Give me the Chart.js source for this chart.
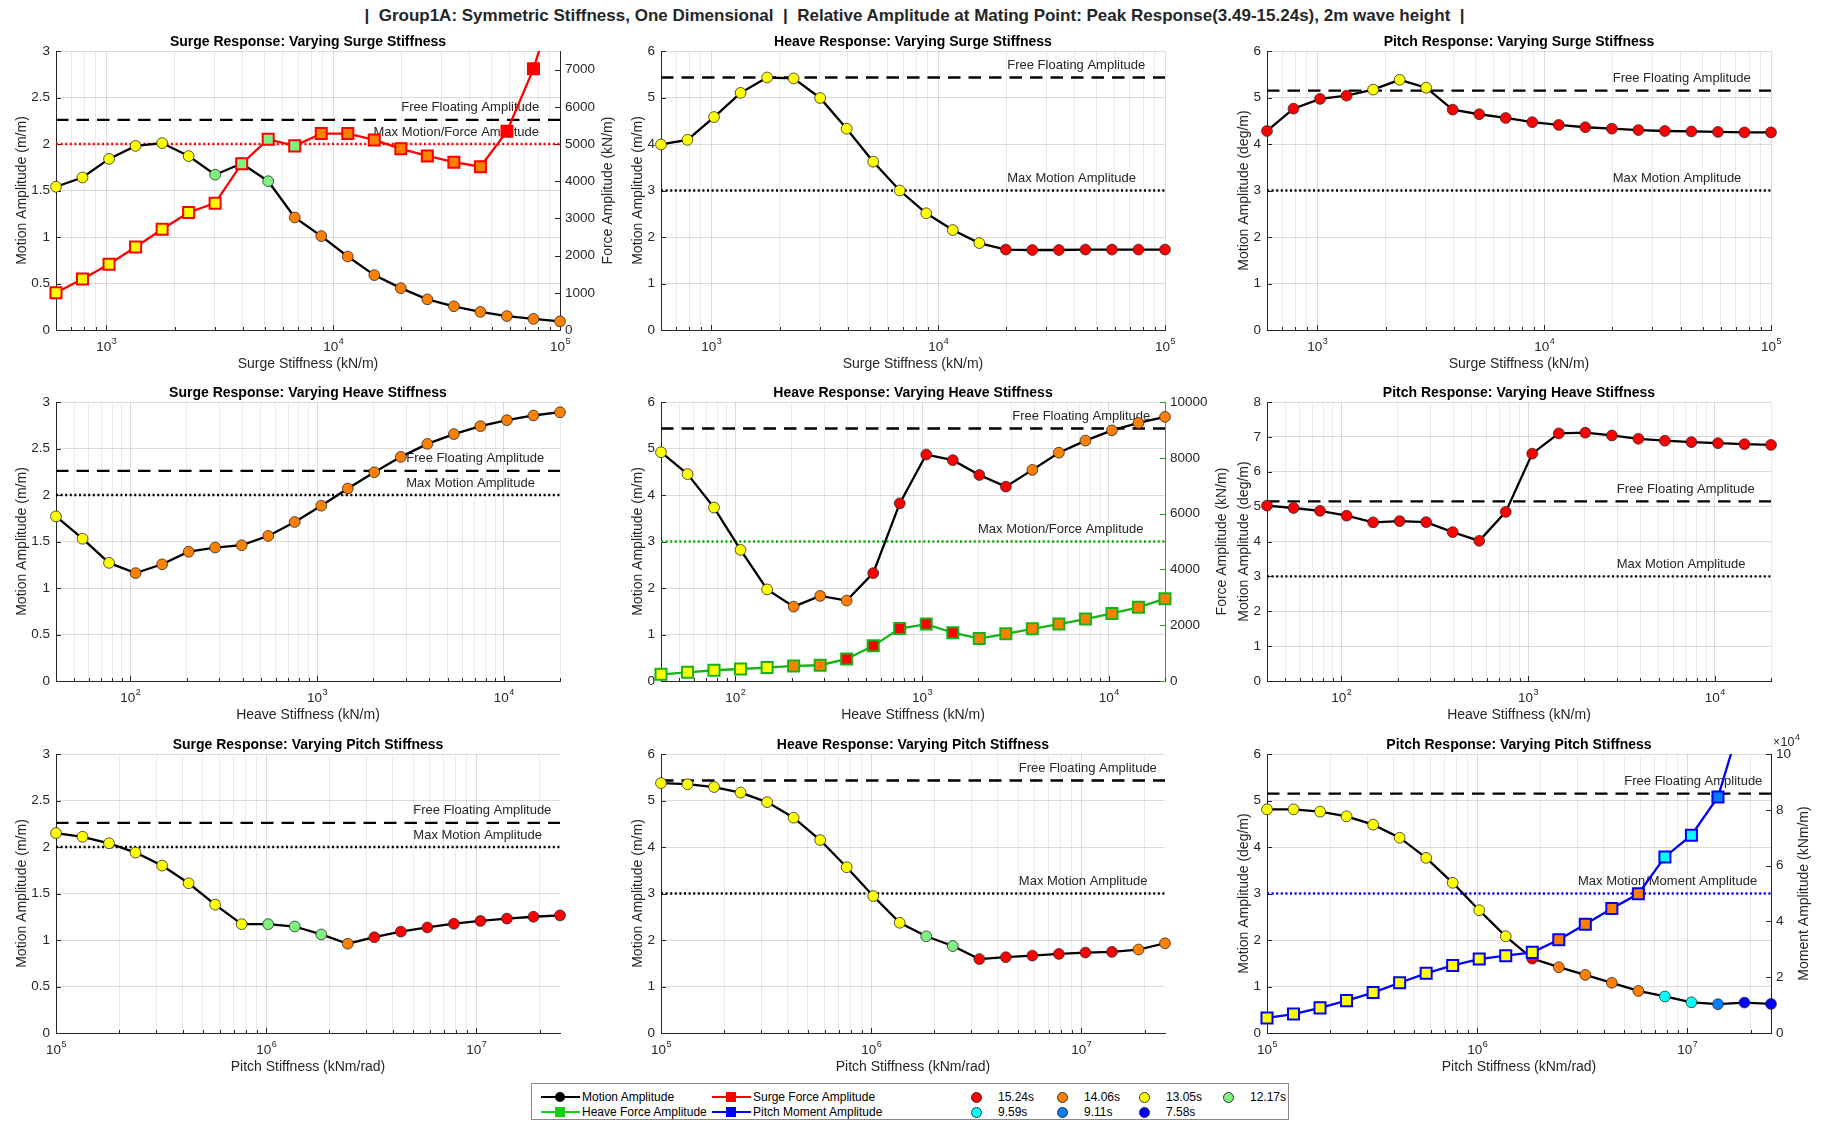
<!DOCTYPE html>
<html>
<head>
<meta charset="utf-8">
<title>Group1A stiffness sweep</title>
<script src="https://cdn.jsdelivr.net/npm/chart.js@4.4.1/dist/chart.umd.min.js"></script>
<style>
  html, body { margin: 0; padding: 0; background: #fff; }
  body { position: relative; width: 1829px; height: 1123px; overflow: hidden;
         font-family: "Liberation Sans", Arial, Helvetica, sans-serif; color: #262626; }
  canvas { position: absolute; }
  #suptitle { position: absolute; left: 0; top: 6px; width: 1829px; text-align: center;
              font-weight: bold; font-size: 17px; line-height: 19px; white-space: pre; color: #262626; }
  #legend { position: absolute; left: 531px; top: 1083px; width: 758px; height: 37px;
            border: 1px solid #8a8a8a; box-sizing: border-box; background: #fff;
            font-size: 12px; color: #000; }
  #legend .key { position: absolute; width: 39px; height: 2px; }
  #legend .key i { position: absolute; left: 14px; top: -4px; width: 10px; height: 10px; }
  #legend .dot { position: absolute; width: 11px; height: 11px; border-radius: 50%;
                 border: 1px solid #333; box-sizing: border-box; }
  #legend .txt { position: absolute; line-height: 14px; white-space: nowrap; }
</style>
</head>
<body>
<div id="suptitle">|  Group1A: Symmetric Stiffness, One Dimensional  |  Relative Amplitude at Mating Point: Peak Response(3.49-15.24s), 2m wave height  |</div>
<div id="legend"></div>
<script>
const FONT = '"Liberation Sans", Arial, Helvetica, sans-serif';
Chart.defaults.font.family = FONT;
Chart.defaults.color = '#262626';

const INK = '#262626';
const GRID_MAJOR = 'rgba(38,38,38,0.16)';
const GRID_MINOR = 'rgba(38,38,38,0.09)';

// period of the peak response (s), used to colour every marker
const R = 15.24, O = 14.06, Y = 13.05, G = 12.17, C = 9.59, B = 9.11, N = 7.58;
const periodLabels = [R, O, Y, G, C, B, N];
const periodColours = ['#ff0000', '#ff8000', '#ffff00', '#80f080', '#00ffff', '#0080ff', '#0000ff'];
const fill = p => periodColours[periodLabels.indexOf(p)];

// swept stiffness values
const surgeStiffness = [600, 785, 1028, 1346, 1762, 2306, 3018, 3951, 5172, 6770,
                        8862, 11600, 15184, 19876, 26018, 34057, 44580, 58354, 76385, 100000];
const heaveStiffness = [40, 55.5, 76.9, 106.7, 148, 205.3, 284.7, 394.8, 547.6, 759.5,
                        1053, 1461, 2026, 2810, 3897, 5405, 7497, 10397, 14420, 20000];
const pitchStiffness = [1e5, 1.337e5, 1.788e5, 2.391e5, 3.198e5, 4.276e5, 5.718e5, 7.646e5, 1.0225e6, 1.3673e6,
                        1.8285e6, 2.4451e6, 3.2697e6, 4.3724e6, 5.8469e6, 7.8188e6, 1.04556e7, 1.39817e7, 1.8697e7, 2.5e7];

// y tick values
const surgeTicks = [0, 0.5, 1, 1.5, 2, 2.5, 3];
const heaveTicks = [0, 1, 2, 3, 4, 5, 6];
const pitchTicks = [0, 1, 2, 3, 4, 5, 6];
const pitchTicksTall = [0, 1, 2, 3, 4, 5, 6, 7, 8];
const surgeForceTicks = [0, 1000, 2000, 3000, 4000, 5000, 6000, 7000];
const heaveForceTicks = [0, 2000, 4000, 6000, 8000, 10000];
const pitchMomentTicks = [0, 20000, 40000, 60000, 80000, 100000];

// free floating and allowable amplitudes
const surgeFree = 2.26, heaveFree = 5.43, pitchFree = 5.15;
const surgeLimit = 2, heaveLimit = 3, pitchLimit = 3;

// surge stiffness sweep
const surgeSurgeMotion = [1.54, 1.64, 1.84, 1.98, 2.01, 1.87, 1.67, 1.79, 1.60, 1.21,
                          1.01, 0.79, 0.59, 0.45, 0.33, 0.255, 0.195, 0.15, 0.12, 0.093];
const surgeSurgePeriod = [Y, Y, Y, Y, Y, Y, G, G, G, O, O, O, O, O, O, O, O, O, O, O];
const surgeSurgeForce = [1000, 1370, 1770, 2230, 2710, 3160, 3410, 4470, 5130, 4950,
                         5280, 5280, 5110, 4870, 4680, 4510, 4390, 5340, 7020, 9300];
const surgeSurgeForcePeriod = [Y, Y, Y, Y, Y, Y, Y, G, G, G, O, O, O, O, O, O, O, R, R, R];
const heaveSurgeMotion = [3.99, 4.09, 4.58, 5.10, 5.43, 5.41, 4.99, 4.33, 3.62, 3.00,
                          2.51, 2.15, 1.87, 1.73, 1.72, 1.72, 1.73, 1.73, 1.73, 1.73];
const heaveSurgePeriod = [Y, Y, Y, Y, Y, Y, Y, Y, Y, Y, Y, Y, Y, R, R, R, R, R, R, R];
const pitchSurgeMotion = [4.28, 4.76, 4.97, 5.04, 5.17, 5.38, 5.21, 4.74, 4.64, 4.56,
                          4.47, 4.41, 4.36, 4.33, 4.30, 4.28, 4.27, 4.26, 4.25, 4.25];
const pitchSurgePeriod = [R, R, R, R, Y, Y, Y, R, R, R, R, R, R, R, R, R, R, R, R, R];

// heave stiffness sweep
const surgeHeaveMotion = [1.77, 1.53, 1.27, 1.16, 1.255, 1.39, 1.435, 1.46, 1.56, 1.71,
                          1.885, 2.07, 2.245, 2.41, 2.55, 2.655, 2.74, 2.805, 2.855, 2.89];
const surgeHeavePeriod = [Y, Y, Y, O, O, O, O, O, O, O, O, O, O, O, O, O, O, O, O, O];
const heaveHeaveMotion = [4.92, 4.45, 3.73, 2.82, 1.97, 1.60, 1.83, 1.73, 2.32, 3.82,
                          4.87, 4.75, 4.43, 4.18, 4.54, 4.91, 5.17, 5.39, 5.55, 5.68];
const heaveHeavePeriod = [Y, Y, Y, Y, Y, O, O, O, R, R, R, R, R, R, O, O, O, O, O, O];
const heaveHeaveForce = [240, 310, 385, 430, 480, 540, 565, 790, 1260, 1880,
                         2040, 1730, 1520, 1690, 1870, 2040, 2220, 2420, 2640, 2950];
const heaveHeaveForcePeriod = [Y, Y, Y, Y, Y, O, O, R, R, R, R, R, O, O, O, O, O, O, O, O];
const pitchHeaveMotion = [5.03, 4.96, 4.88, 4.74, 4.55, 4.585, 4.555, 4.27, 4.02, 4.85,
                          6.52, 7.10, 7.12, 7.04, 6.945, 6.89, 6.85, 6.82, 6.79, 6.77];
const pitchHeavePeriod = [R, R, R, R, R, R, R, R, R, R, R, R, R, R, R, R, R, R, R, R];

// pitch stiffness sweep
const surgePitchMotion = [2.15, 2.11, 2.04, 1.94, 1.80, 1.61, 1.38, 1.17, 1.17, 1.145,
                          1.06, 0.96, 1.03, 1.09, 1.135, 1.175, 1.205, 1.23, 1.25, 1.265];
const surgePitchPeriod = [Y, Y, Y, Y, Y, Y, Y, Y, G, G, G, O, R, R, R, R, R, R, R, R];
const heavePitchMotion = [5.375, 5.35, 5.29, 5.17, 4.965, 4.63, 4.15, 3.565, 2.945, 2.37,
                          2.08, 1.87, 1.59, 1.63, 1.665, 1.70, 1.73, 1.745, 1.795, 1.93];
const heavePitchPeriod = [Y, Y, Y, Y, Y, Y, Y, Y, Y, Y, G, G, R, R, R, R, R, R, O, O];
const pitchPitchMotion = [4.81, 4.81, 4.76, 4.66, 4.48, 4.20, 3.765, 3.23, 2.64, 2.08,
                          1.60, 1.415, 1.25, 1.08, 0.905, 0.785, 0.66, 0.62, 0.655, 0.625];
const pitchPitchPeriod = [Y, Y, Y, Y, Y, Y, Y, Y, Y, Y, R, O, O, O, O, C, C, B, N, N];
const pitchPitchMoment = [5400, 6800, 9000, 11600, 14500, 18000, 21400, 24200, 26500, 27700,
                          28900, 33400, 39000, 44600, 49900, 63100, 70900, 84600, 116000, 175000];
const pitchPitchMomentPeriod = [Y, Y, Y, Y, Y, Y, Y, Y, Y, Y, Y, O, O, O, O, C, C, B, N, N];

// layout of the 3x3 grid (plot-area corners in page pixels)
const COL_X = [56, 661, 1267];
const ROW_Y = [51, 402, 754];
const PLOT_W = 504, PLOT_H = 279;
const PAD_TOP = 30, X_AXIS_H = 43;
const LINE_W = 2.3;

const panels = [
  {col: 0, row: 0, title: 'Surge Response: Varying Surge Stiffness', xLabel: 'Surge Stiffness (kN/m)', xs: surgeStiffness,
   yLabel: 'Motion Amplitude (m/m)', yTicks: surgeTicks, yGap: 34, motion: surgeSurgeMotion, periods: surgeSurgePeriod,
   free: surgeFree, limit: surgeLimit, limitColour: '#ff0000', freeAt: 0.685, limitAt: 0.63, limitText: 'Max Motion/Force Amplitude',
   right: {label: 'Force Amplitude (kN/m)', values: surgeSurgeForce, periods: surgeSurgeForcePeriod, ticks: surgeForceTicks,
           max: 7500, div: 1, colour: '#ff0000', axisColour: INK, gap: 48}},
  {col: 1, row: 0, title: 'Heave Response: Varying Surge Stiffness', xLabel: 'Surge Stiffness (kN/m)', xs: surgeStiffness,
   yLabel: 'Motion Amplitude (m/m)', yTicks: heaveTicks, yGap: 23, motion: heaveSurgeMotion, periods: heaveSurgePeriod,
   free: heaveFree, limit: heaveLimit, limitColour: '#000', freeAt: 0.687, limitAt: 0.687, limitText: 'Max Motion Amplitude'},
  {col: 2, row: 0, title: 'Pitch Response: Varying Surge Stiffness', xLabel: 'Surge Stiffness (kN/m)', xs: surgeStiffness,
   yLabel: 'Motion Amplitude (deg/m)', yTicks: pitchTicks, yGap: 23, motion: pitchSurgeMotion, periods: pitchSurgePeriod,
   free: pitchFree, limit: pitchLimit, limitColour: '#000', freeAt: 0.686, limitAt: 0.686, limitText: 'Max Motion Amplitude'},
  {col: 0, row: 1, title: 'Surge Response: Varying Heave Stiffness', xLabel: 'Heave Stiffness (kN/m)', xs: heaveStiffness,
   yLabel: 'Motion Amplitude (m/m)', yTicks: surgeTicks, yGap: 34, motion: surgeHeaveMotion, periods: surgeHeavePeriod,
   free: surgeFree, limit: surgeLimit, limitColour: '#000', freeAt: 0.695, limitAt: 0.695, limitText: 'Max Motion Amplitude'},
  {col: 1, row: 1, title: 'Heave Response: Varying Heave Stiffness', xLabel: 'Heave Stiffness (kN/m)', xs: heaveStiffness,
   yLabel: 'Motion Amplitude (m/m)', yTicks: heaveTicks, yGap: 23, motion: heaveHeaveMotion, periods: heaveHeavePeriod,
   free: heaveFree, limit: heaveLimit, limitColour: '#00b000', freeAt: 0.697, limitAt: 0.629, limitText: 'Max Motion/Force Amplitude',
   right: {label: 'Force Amplitude (kN/m)', values: heaveHeaveForce, periods: heaveHeaveForcePeriod, ticks: heaveForceTicks,
           max: 10000, div: 1, colour: '#14b414', axisColour: '#14b414', gap: 57}},
  {col: 2, row: 1, title: 'Pitch Response: Varying Heave Stiffness', xLabel: 'Heave Stiffness (kN/m)', xs: heaveStiffness,
   yLabel: 'Motion Amplitude (deg/m)', yTicks: pitchTicksTall, yGap: 23, motion: pitchHeaveMotion, periods: pitchHeavePeriod,
   free: pitchFree, limit: pitchLimit, limitColour: '#000', freeAt: 0.694, limitAt: 0.694, limitText: 'Max Motion Amplitude'},
  {col: 0, row: 2, title: 'Surge Response: Varying Pitch Stiffness', xLabel: 'Pitch Stiffness (kNm/rad)', xs: pitchStiffness,
   yLabel: 'Motion Amplitude (m/m)', yTicks: surgeTicks, yGap: 34, motion: surgePitchMotion, periods: surgePitchPeriod,
   free: surgeFree, limit: surgeLimit, limitColour: '#000', freeAt: 0.709, limitAt: 0.709, limitText: 'Max Motion Amplitude'},
  {col: 1, row: 2, title: 'Heave Response: Varying Pitch Stiffness', xLabel: 'Pitch Stiffness (kNm/rad)', xs: pitchStiffness,
   yLabel: 'Motion Amplitude (m/m)', yTicks: heaveTicks, yGap: 23, motion: heavePitchMotion, periods: heavePitchPeriod,
   free: heaveFree, limit: heaveLimit, limitColour: '#000', freeAt: 0.71, limitAt: 0.71, limitText: 'Max Motion Amplitude'},
  {col: 2, row: 2, title: 'Pitch Response: Varying Pitch Stiffness', xLabel: 'Pitch Stiffness (kNm/rad)', xs: pitchStiffness,
   yLabel: 'Motion Amplitude (deg/m)', yTicks: pitchTicks, yGap: 23, motion: pitchPitchMotion, periods: pitchPitchPeriod,
   free: pitchFree, limit: pitchLimit, limitColour: '#0000ff', freeAt: 0.709, limitAt: 0.617, limitText: 'Max Motion/Moment Amplitude',
   right: {label: 'Moment Amplitude (kNm/m)', values: pitchPitchMoment, periods: pitchPitchMomentPeriod, ticks: pitchMomentTicks,
           max: 100000, div: 10000, colour: '#0000ff', axisColour: INK, gap: 33}}
];

// every 1..9 x 10^n inside the range, for the log grid
function gridValues(min, max) {
  const out = [];
  for (let e = Math.floor(Math.log10(min)); e <= Math.ceil(Math.log10(max)); e++) {
    for (let k = 1; k <= 9; k++) {
      const v = k * Math.pow(10, e);
      if (v >= min * 0.9999 && v <= max * 1.0001) out.push(v);
    }
  }
  return out;
}
const isDecade = v => Math.abs(Math.log10(v) - Math.round(Math.log10(v))) < 1e-9;

// "10" with a raised exponent, centred on x (or starting at x)
function drawPower(ctx, x, y, exp, size, supSize, align) {
  ctx.font = size + 'px ' + FONT;
  const wBase = ctx.measureText('10').width;
  ctx.font = supSize + 'px ' + FONT;
  const wExp = ctx.measureText(String(exp)).width;
  const start = align === 'left' ? x : x - (wBase + wExp) / 2;
  ctx.textAlign = 'left';
  ctx.textBaseline = 'middle';
  ctx.font = size + 'px ' + FONT;
  ctx.fillText('10', start, y);
  ctx.font = supSize + 'px ' + FONT;
  ctx.fillText(String(exp), start + wBase + 0.5, y - size * 0.45);
}

function decor(p) {
  return {
    id: 'decor',
    beforeDatasetsDraw(chart) {
      const {ctx, chartArea: a, scales} = chart;
      ctx.save();
      // inward tick marks
      ctx.lineWidth = 1;
      ctx.strokeStyle = INK;
      ctx.beginPath();
      scales.x.ticks.forEach(t => {
        const px = Math.round(scales.x.getPixelForValue(t.value)) + 0.5;
        const len = isDecade(t.value) ? 5 : 3;
        ctx.moveTo(px, a.bottom);
        ctx.lineTo(px, a.bottom - len);
      });
      scales.y.ticks.forEach(t => {
        const py = Math.round(scales.y.getPixelForValue(t.value)) + 0.5;
        ctx.moveTo(a.left, py);
        ctx.lineTo(a.left + 5, py);
      });
      ctx.stroke();
      if (scales.y2) {
        ctx.strokeStyle = p.right.axisColour;
        ctx.beginPath();
        scales.y2.ticks.forEach(t => {
          const py = Math.round(scales.y2.getPixelForValue(t.value)) + 0.5;
          ctx.moveTo(a.right, py);
          ctx.lineTo(a.right - 5, py);
        });
        ctx.stroke();
      }
      // captions of the reference lines
      ctx.font = '13px ' + FONT;
      ctx.fillStyle = INK;
      ctx.textAlign = 'left';
      ctx.textBaseline = 'middle';
      const w = a.right - a.left;
      ctx.fillText('Free Floating Amplitude', a.left + p.freeAt * w, scales.y.getPixelForValue(p.free) - 12);
      ctx.fillText(p.limitText, a.left + p.limitAt * w, scales.y.getPixelForValue(p.limit) - 12);
      ctx.restore();
    },
    afterDraw(chart) {
      const {ctx, chartArea: a, scales} = chart;
      ctx.save();
      ctx.fillStyle = '#000';
      ctx.font = 'bold 14px ' + FONT;
      ctx.textAlign = 'center';
      ctx.textBaseline = 'middle';
      ctx.fillText(p.title, (a.left + a.right) / 2, a.top - 9);

      ctx.fillStyle = INK;
      gridValues(scales.x.min, scales.x.max).filter(isDecade).forEach(v => {
        drawPower(ctx, scales.x.getPixelForValue(v), a.bottom + 17.5, Math.round(Math.log10(v)), 13.5, 9);
      });

      if (p.right) {
        ctx.save();
        ctx.translate(a.right + p.right.gap, (a.top + a.bottom) / 2);
        ctx.rotate(-Math.PI / 2);
        ctx.font = '14px ' + FONT;
        ctx.textAlign = 'center';
        ctx.textBaseline = 'middle';
        ctx.fillText(p.right.label, 0, 0);
        ctx.restore();
        if (p.right.div !== 1) {
          // axis multiplier above the right axis
          ctx.font = '12px ' + FONT;
          ctx.textAlign = 'left';
          ctx.textBaseline = 'middle';
          const x0 = a.right + 2;
          ctx.fillText('\u00d7', x0, a.top - 11);
          const wx = ctx.measureText('\u00d7').width;
          drawPower(ctx, x0 + wx + 0.5, a.top - 11, Math.round(Math.log10(p.right.div)), 12.5, 9, 'left');
        }
      }
      ctx.restore();
    }
  };
}

function makePanel(p) {
  const wl = Math.round(p.yGap + 8.4);
  const wr = p.right ? p.right.gap + 12 : 30;
  const cw = wl + PLOT_W + wr;
  const ch = PAD_TOP + PLOT_H + X_AXIS_H;
  const canvas = document.createElement('canvas');
  canvas.width = cw;
  canvas.height = ch;
  canvas.style.left = (COL_X[p.col] - wl) + 'px';
  canvas.style.top = (ROW_Y[p.row] - PAD_TOP) + 'px';
  canvas.style.width = cw + 'px';
  canvas.style.height = ch + 'px';
  document.body.appendChild(canvas);

  const xs = p.xs, xMin = xs[0], xMax = xs[xs.length - 1];
  const span = v => [{x: xMin, y: v}, {x: xMax, y: v}];
  const clip = {left: 10, right: 10, top: 0, bottom: 10};

  const datasets = [
    {data: span(p.free), borderColor: '#000', borderWidth: LINE_W, borderDash: [12.5, 8],
     pointRadius: 0, order: 3, clip},
    {data: span(p.limit), borderColor: p.limitColour, borderWidth: LINE_W, borderDash: [2, 2.6],
     pointRadius: 0, order: 3, clip},
    {data: xs.map((x, i) => ({x, y: p.motion[i]})), borderColor: '#000', borderWidth: LINE_W,
     pointRadius: 5.4, pointBackgroundColor: p.periods.map(fill), pointBorderColor: '#2a2a2a',
     pointBorderWidth: 0.8, order: 1, clip}
  ];

  const scales = {
    x: {
      type: 'logarithmic', min: xMin, max: xMax,
      afterBuildTicks: s => { s.ticks = gridValues(xMin, xMax).map(value => ({value})); },
      afterFit: s => { s.height = X_AXIS_H; s.paddingLeft = 0; s.paddingRight = 0; },
      ticks: {display: false},
      grid: {drawTicks: false, color: c => (c.tick && isDecade(c.tick.value)) ? GRID_MAJOR : GRID_MINOR},
      border: {color: INK},
      title: {display: true, text: p.xLabel, color: INK, font: {size: 14}, padding: 0}
    },
    y: {
      type: 'linear', position: 'left', min: 0, max: p.yTicks[p.yTicks.length - 1],
      afterBuildTicks: s => { s.ticks = p.yTicks.map(value => ({value})); },
      afterFit: s => { s.width = wl; s.paddingTop = 0; s.paddingBottom = 0; },
      ticks: {color: INK, font: {size: 13.5}, padding: 6, callback: v => String(v)},
      grid: {drawTicks: false, color: GRID_MAJOR},
      border: {color: INK},
      title: {display: true, text: p.yLabel, color: INK, font: {size: 14}, padding: 0}
    }
  };

  if (p.right) {
    const r = p.right;
    datasets.push({
      yAxisID: 'y2', data: xs.map((x, i) => ({x, y: r.values[i]})),
      borderColor: r.colour, borderWidth: LINE_W, pointStyle: 'rect', pointRadius: 7.8,
      pointBackgroundColor: r.periods.map(fill), pointBorderColor: r.colour, pointBorderWidth: 2,
      order: 0, clip
    });
    scales.y2 = {
      type: 'linear', position: 'right', min: 0, max: r.max,
      afterBuildTicks: s => { s.ticks = r.ticks.map(value => ({value})); },
      afterFit: s => { s.width = wr; s.paddingTop = 0; s.paddingBottom = 0; },
      ticks: {color: INK, font: {size: 13.5}, padding: 5, callback: v => String(v / r.div)},
      grid: {drawOnChartArea: false, drawTicks: false},
      border: {color: r.axisColour}
    };
  }

  new Chart(canvas, {
    type: 'line',
    data: {datasets},
    options: {
      responsive: false,
      animation: false,
      events: [],
      layout: {autoPadding: false, padding: {top: PAD_TOP, left: 0, bottom: 0, right: p.right ? 0 : wr}},
      elements: {line: {tension: 0}},
      scales,
      plugins: {legend: {display: false}, tooltip: {enabled: false}}
    },
    plugins: [decor(p)]
  });
}

panels.forEach(makePanel);

// shared legend under the grid
const legend = document.getElementById('legend');
const lineKeys = [
  {text: 'Motion Amplitude', colour: '#000', round: true, left: 9, top: 13},
  {text: 'Surge Force Amplitude', colour: '#ff0000', round: false, left: 180, top: 13},
  {text: 'Heave Force Amplitude', colour: '#14d014', round: false, left: 9, top: 28},
  {text: 'Pitch Moment Amplitude', colour: '#0000ff', round: false, left: 180, top: 28}
];
lineKeys.forEach(k => {
  const key = document.createElement('div');
  key.className = 'key';
  key.style.cssText = `left:${k.left}px;top:${k.top - 1}px;background:${k.colour}`;
  const m = document.createElement('i');
  m.style.background = k.colour;
  if (k.round) m.style.borderRadius = '50%';
  key.appendChild(m);
  legend.appendChild(key);
  const t = document.createElement('div');
  t.className = 'txt';
  t.style.cssText = `left:${k.left + 41}px;top:${k.top - 7}px`;
  t.textContent = k.text;
  legend.appendChild(t);
});
const dotLeft = [444, 530, 612, 696];
periodLabels.forEach((p, i) => {
  const col = i % 4, row = Math.floor(i / 4);
  const top = row ? 28 : 13;
  const d = document.createElement('div');
  d.className = 'dot';
  d.style.cssText = `left:${dotLeft[col] - 5.5}px;top:${top - 5.5}px;background:${periodColours[i]}`;
  legend.appendChild(d);
  const t = document.createElement('div');
  t.className = 'txt';
  t.style.cssText = `left:${dotLeft[col] + 22}px;top:${top - 7}px`;
  t.textContent = p.toFixed(2) + 's';
  legend.appendChild(t);
});
</script>
</body>
</html>
